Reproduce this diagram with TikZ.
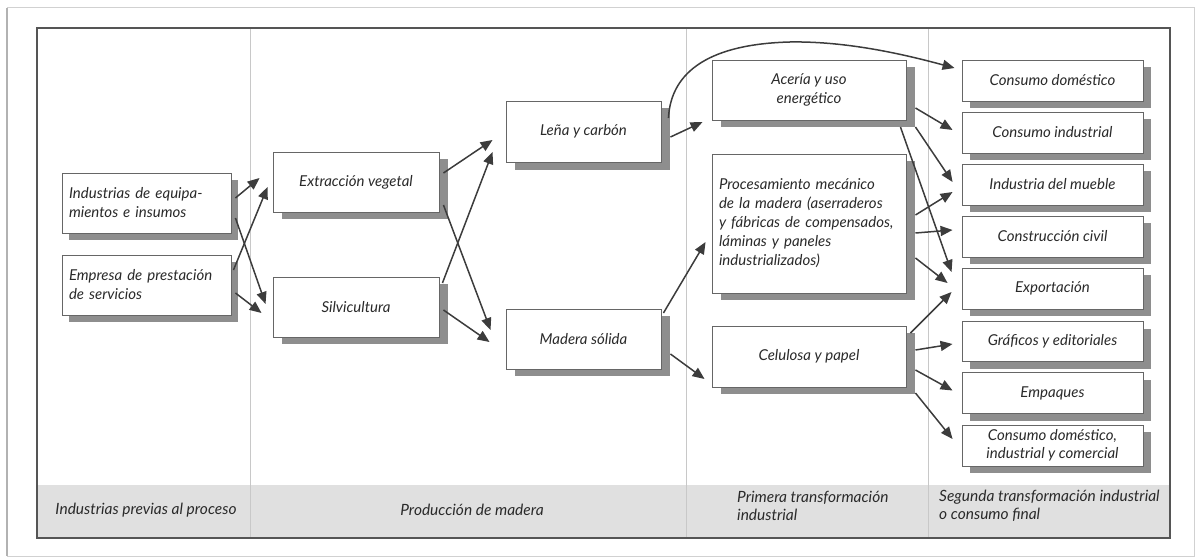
\documentclass[tikz,border=0pt]{standalone}
\usepackage{fontspec}
\setmainfont{Lato}
\usetikzlibrary{arrows.meta,calc}
\definecolor{ink}{HTML}{2A2A2A}
\definecolor{framec}{HTML}{555555}
\definecolor{divc}{HTML}{C8C8C8}
\definecolor{bandc}{HTML}{E0E0E0}
\definecolor{shadc}{HTML}{8E8E8E}
\definecolor{arrc}{HTML}{3C3C3C}
\begin{document}
\begin{tikzpicture}[x=1pt,y=-1pt,
  box/.style 2 args={draw=black!60, line width=0.9pt, fill=white, inner sep=0pt,
    minimum width=#1, minimum height=#2, text=ink, align=center,
    font=\itshape\fontsize{15}{19}\selectfont},
  band/.style={text=ink, font=\itshape\fontsize{15.5}{18}\selectfont, inner sep=0pt},
  arr/.style={draw=arrc, line width=1.5pt, -{Triangle[length=12pt,width=10pt]}},
  shad/.style={fill=shadc, draw=none}]
\useasboundingbox (0,0) rectangle (1196,559);
% page frame
\draw[black!18, line width=1pt] (7,8) rectangle (1194,556);
\draw[black!30, line width=2pt] (7,8) -- (7,556);
% band and frame
\fill[bandc] (37,485) rectangle (1170,538);
\draw[divc, line width=1pt] (250,28) -- (250,538);
\draw[divc, line width=1pt] (686,28) -- (686,538);
\draw[divc, line width=1pt] (928,28) -- (928,538);
\draw[framec, line width=1.2pt] (37,28) rectangle (1170,538);
% shadows
\fill[shad] (69,180) rectangle (238,240);
\fill[shad] (69,262) rectangle (238,322);
\fill[shad] (282,159) rectangle (448,219);
\fill[shad] (282,284) rectangle (448,344);
\fill[shad] (515,108.5) rectangle (670,169.5);
\fill[shad] (515,316) rectangle (670,376);
\fill[shad] (721,67) rectangle (915,127);
\fill[shad] (721,161) rectangle (915,300);
\fill[shad] (721,333) rectangle (915,394);
\foreach \yy in {80.5,132.5,184.5,236.5,288.5,393,445.5}
  \fill[shad] (970,\yy-13.5) rectangle (1151,\yy+27.5);
\fill[shad] (970,328.5) rectangle (1151,368.5);
% band labels
\node[band] (b1) at (146,510) {Industrias previas al proceso};
\node[band] (b2) at (472,510) {Producción de madera};
\node[band, align=left, anchor=west] (b3) at (737,506) {Primera transformación\\industrial};
\node[band, align=left, anchor=west] (b4) at (939,506) {Segunda transformación industrial\\o consumo final};
% column 1
\node[box={169pt}{60pt}, text width=155pt, align=left] (ind) at (146.5,203) {Industrias de equipa-\\mientos e insumos};
\node[box={169pt}{60pt}, text width=155pt, align=left] (emp) at (146.5,285) {Empresa de prestación\\de servicios};
% column 2
\node[box={166pt}{60pt}] (ext) at (356,182) {Extracción vegetal};
\node[box={166pt}{60pt}] (sil) at (356,307) {Silvicultura};
\node[box={155pt}{61pt}] (lena) at (583.5,131.5) {Leña y carbón};
\node[box={155pt}{60pt}] (mad) at (583.5,339) {Madera sólida};
% column 3
\node[box={194pt}{60pt}] (ace) at (809,90) {Acería y uso\\energético};
\node[box={194pt}{139pt}, text width=180pt, align=left] (pro) at (809,223.5) {Procesamiento mecánico\\de la madera (aserraderos\\y fábricas de compensados,\\láminas y paneles\\industrializados)};
\node[box={194pt}{61pt}] (cel) at (809,356.5) {Celulosa y papel};
% column 4
\node[box={181pt}{41pt}] (cd) at (1052.5,80.5) {Consumo doméstico};
\node[box={181pt}{41pt}] (ci) at (1052.5,132.5) {Consumo industrial};
\node[box={181pt}{41pt}] (mue) at (1052.5,184.5) {Industria del mueble};
\node[box={181pt}{41pt}] (civ) at (1052.5,236.5) {Construcción civil};
\node[box={181pt}{41pt}] (exp) at (1052.5,288.5) {Exportación};
\node[box={181pt}{40pt}] (gra) at (1052.5,341.5) {Gráficos y editoriales};
\node[box={181pt}{41pt}] (emq) at (1052.5,393) {Empaques};
\node[box={181pt}{41pt}, font=\itshape\fontsize{15}{18}\selectfont] (cdi) at (1052.5,445.5) {Consumo doméstico,\\industrial y comercial};
% arrows col1 -> col2
\draw[arr] ([shift={(4,-5)}]ind.east) -- ([shift={(-13,-4)}]ext.west);
\draw[arr] ([shift={(2,-15)}]emp.east) -- ([shift={(-5,5)}]ext.west);
\draw[arr] ([shift={(4,15)}]ind.east) -- ([shift={(-7,-3)}]sil.west);
\draw[arr] ([shift={(4,8)}]emp.east) -- ([shift={(-11,6)}]sil.west);
% col2 -> lena/madera
\draw[arr] ([shift={(4,-9)}]ext.east) -- ([shift={(-13,8.5)}]lena.west);
\draw[arr] ([shift={(3,-24)}]sil.east) -- ([shift={(-13,20.5)}]lena.west);
\draw[arr] ([shift={(4,23)}]ext.east) -- ([shift={(-15,-9)}]mad.west);
\draw[arr] ([shift={(4,3)}]sil.east) -- ([shift={(-16,3)}]mad.west);
% lena/madera -> col3
\draw[arr] ([shift={(9,5.5)}]lena.east) -- ([shift={(-9,32)}]ace.west);
\draw[arr] ([shift={(2,-26)}]mad.east) -- ([shift={(-6,18.5)}]pro.west);
\draw[arr] ([shift={(9,15)}]mad.east) -- ([shift={(-7,22.5)}]cel.west);
\coordinate (peak) at (790,42);
\draw[arr] ([shift={(7,-13.5)}]lena.east) .. controls (671,70) and (712,44) .. (peak)
  .. controls (850,41) and (910,56) .. ([shift={(-7,-12.5)}]cd.west);
% col3 -> col4
\draw[arr] ([shift={(9,18)}]ace.east) -- ([shift={(-9,-2.5)}]ci.west);
\draw[arr] ([shift={(9,37)}]ace.east) -- ([shift={(-9,-2.5)}]mue.west);
\draw[arr] ([shift={(-6,37)}]ace.east) -- ([shift={(-10,-16.5)}]exp.west);
\draw[arr] ([shift={(9,-8.5)}]pro.east) -- ([shift={(-9,7.5)}]mue.west);
\draw[arr] ([shift={(9,9.5)}]pro.east) -- ([shift={(-9,-6.5)}]civ.west);
\draw[arr] ([shift={(9,34.5)}]pro.east) -- ([shift={(-14,-5.5)}]exp.west);
\draw[arr] ([shift={(4,-23.5)}]cel.east) -- ([shift={(-10,3.5)}]exp.west);
\draw[arr] ([shift={(9,-6.5)}]cel.east) -- ([shift={(-9,2.5)}]gra.west);
\draw[arr] ([shift={(9,13.5)}]cel.east) -- ([shift={(-9,-2.5)}]emq.west);
\draw[arr] ([shift={(9,36.5)}]cel.east) -- ([shift={(-9,-6.5)}]cdi.west);
\end{tikzpicture}
\end{document}
